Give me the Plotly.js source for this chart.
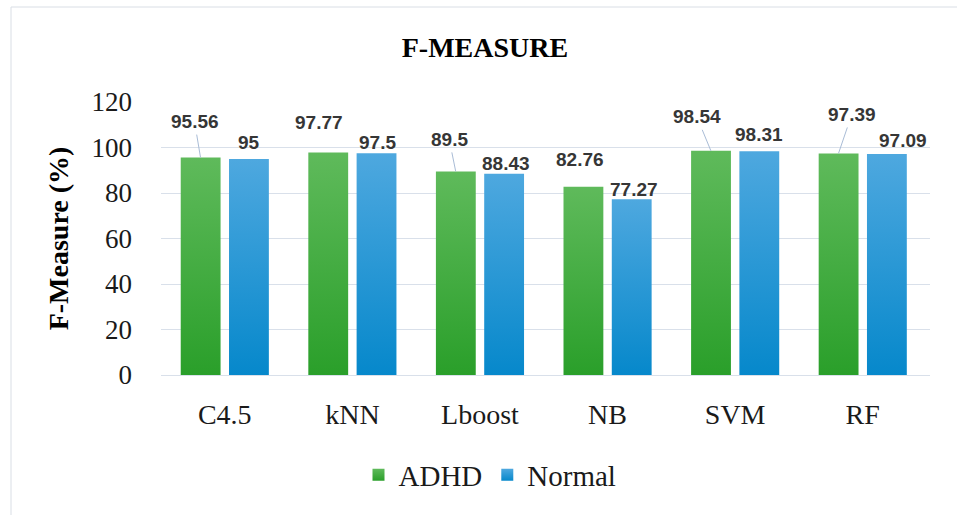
<!DOCTYPE html>
<html>
<head>
<meta charset="utf-8">
<script src="https://cdn.plot.ly/plotly-3.0.1.min.js"></script>
<style>
  html, body { margin: 0; padding: 0; background: #ffffff; }
  #chart { width: 957px; height: 515px; }
</style>
</head>
<body>
<div id="chart"></div>
<script>
// ---- data ----
const categories = ['C4.5', 'kNN', 'Lboost', 'NB', 'SVM', 'RF'];
const adhdValues = [95.56, 97.77, 89.5, 82.76, 98.54, 97.39];
const normalValues = [95, 97.5, 88.43, 77.27, 98.31, 97.09];
const seriesNames = ['ADHD', 'Normal'];
const yTickValues = [0, 20, 40, 60, 80, 100, 120];
const chartTitle = 'F-MEASURE';
const yAxisTitle = 'F-Measure (%)';

// ---- label placement (style config, pixels relative to bar top-centre) ----
const adhdLabelDx = [-6, -9, -6.5, -3.6, -14, 13.3];
const adhdLabelDy = [-36, -30, -32, -27, -34, -39];
const adhdLeader  = [true, false, true, false, true, true];
const normalLabelDx = [0, 0.5, 1.6, 2.3, -0.4, 16];
const normalLabelDy = [-16, -10.5, -10.5, -9.5, -17, -13.5];

// ---- layout geometry ----
const M = { l: 161, r: 27, t: 102, b: 140 };
const W = 957, H = 515;
const plotW = W - M.l - M.r, plotH = H - M.t - M.b;
const bargap = 0.243, bargroupgap = 0.175;
const catPx = plotW / categories.length;
const slotPx = catPx * (1 - bargap) / 2;
const barOffset = slotPx / 2;

const serif = 'Liberation Serif, Times New Roman, serif';
const sans = 'Liberation Sans, Arial, sans-serif';
const labelColor = '#363636';
const gridColor = '#d9e0ea';
const leaderColor = '#a9bcd6';

function serifName(s) { return '<span style="font-family:Liberation Serif, serif">' + s + '</span>'; }

const traces = [
  { type: 'bar', name: serifName(seriesNames[0]), x: categories, y: adhdValues,
    marker: { color: '#43ac43', line: { width: 0 } }, hoverinfo: 'none' },
  { type: 'bar', name: serifName(seriesNames[1]), x: categories, y: normalValues,
    marker: { color: '#2596d5', line: { width: 0 } }, hoverinfo: 'none' }
];

function fmt(v) { return String(v); }

const annotations = [];
categories.forEach((c, i) => {
  annotations.push({
    x: c, y: adhdValues[i], xref: 'x', yref: 'y',
    xshift: -barOffset,
    text: '<b>' + fmt(adhdValues[i]) + '</b>',
    showarrow: true, arrowhead: 0, arrowwidth: 1, standoff: 0,
    arrowcolor: adhdLeader[i] ? leaderColor : 'rgba(0,0,0,0)',
    ax: adhdLabelDx[i], ay: adhdLabelDy[i],
    font: { family: sans, size: 19, color: labelColor },
    borderpad: 2
  });
  annotations.push({
    x: c, y: normalValues[i], xref: 'x', yref: 'y',
    xshift: barOffset,
    text: '<b>' + fmt(normalValues[i]) + '</b>',
    showarrow: true, arrowhead: 0, arrowwidth: 1, standoff: 0,
    arrowcolor: 'rgba(0,0,0,0)',
    ax: normalLabelDx[i], ay: normalLabelDy[i],
    font: { family: sans, size: 19, color: labelColor },
    borderpad: 2
  });
});

// outer light border (left edge at x=11px, top edge at y=7px)
const bx0 = (11 - M.l) / plotW;
const by1 = (H - M.b - 7) / plotH;

const layout = {
  width: W, height: H,
  margin: M,
  paper_bgcolor: '#ffffff', plot_bgcolor: '#ffffff',
  font: { family: serif },
  barmode: 'group', bargap: bargap, bargroupgap: bargroupgap,
  title: {
    text: '<b>' + chartTitle + '</b>',
    font: { family: serif, size: 28, color: '#000000' },
    x: 485 / W, xref: 'container', xanchor: 'center',
    y: 1 - 47 / H, yref: 'container', yanchor: 'middle'
  },
  xaxis: {
    type: 'category',
    tickfont: { family: serif, size: 28, color: '#1a1a1a' },
    showgrid: false, showline: false, zeroline: false,
    ticks: '', ticklabelstandoff: 20
  },
  yaxis: {
    range: [0, 120], tickvals: yTickValues,
    ticktext: yTickValues.map(String),
    tickfont: { family: serif, size: 27, color: '#1a1a1a' },
    showgrid: true, gridcolor: gridColor, gridwidth: 1,
    zeroline: true, zerolinecolor: gridColor, zerolinewidth: 1,
    showline: false, ticks: '', ticklabelstandoff: 28,
    title: {
      text: '<b>' + yAxisTitle + '</b>',
      font: { family: serif, size: 28, color: '#000000' },
      standoff: 14
    },
    automargin: false
  },
  legend: {
    orientation: 'h',
    x: 490 / W, xref: 'container', xanchor: 'center',
    y: 1 - 475 / H, yref: 'container', yanchor: 'middle',
    font: { family: serif, size: 29, color: '#1a1a1a' },
    itemclick: false, itemdoubleclick: false,
    traceorder: 'normal'
  },
  annotations: annotations,
  shapes: [{
    type: 'rect', xref: 'paper', yref: 'paper', layer: 'below',
    x0: bx0, x1: 3, y0: -3, y1: by1,
    line: { color: '#d9dee5', width: 1 }, fillcolor: 'rgba(0,0,0,0)'
  }],
  showlegend: true
};

const gradients = [
  { id: 'gradSeries0', top: '#5fba5b', bottom: '#2a9f2a' },
  { id: 'gradSeries1', top: '#4ea8df', bottom: '#0688cb' }
];

function applyGradients(gd) {
  const svg = gd.querySelector('.main-svg');
  if (!svg) return;
  let defs = svg.querySelector('defs');
  if (!defs) {
    defs = document.createElementNS('http://www.w3.org/2000/svg', 'defs');
    svg.insertBefore(defs, svg.firstChild);
  }
  gradients.forEach(g => {
    if (document.getElementById(g.id)) return;
    const lg = document.createElementNS('http://www.w3.org/2000/svg', 'linearGradient');
    lg.setAttribute('id', g.id);
    lg.setAttribute('x1', '0'); lg.setAttribute('y1', '0');
    lg.setAttribute('x2', '0'); lg.setAttribute('y2', '1');
    [[0, g.top], [1, g.bottom]].forEach(([o, c]) => {
      const s = document.createElementNS('http://www.w3.org/2000/svg', 'stop');
      s.setAttribute('offset', o);
      s.setAttribute('stop-color', c);
      lg.appendChild(s);
    });
    defs.appendChild(lg);
  });
  gd.querySelectorAll('.barlayer .trace').forEach((t, i) => {
    if (!gradients[i]) return;
    t.querySelectorAll('path').forEach(p => { p.style.fill = 'url(#' + gradients[i].id + ')'; });
  });
  gd.querySelectorAll('.legend .traces').forEach((t, i) => {
    if (!gradients[i]) return;
    t.querySelectorAll('.legendpoints path').forEach(p => { p.style.fill = 'url(#' + gradients[i].id + ')'; });
    t.querySelectorAll('text.legendtext').forEach(el => { el.style.fontFamily = serif; });
  });
}

const gd = document.getElementById('chart');
Plotly.newPlot(gd, traces, layout, { displayModeBar: false, staticPlot: true })
  .then(() => {
    applyGradients(gd);
    gd.on('plotly_afterplot', () => applyGradients(gd));
  });
</script>
</body>
</html>
